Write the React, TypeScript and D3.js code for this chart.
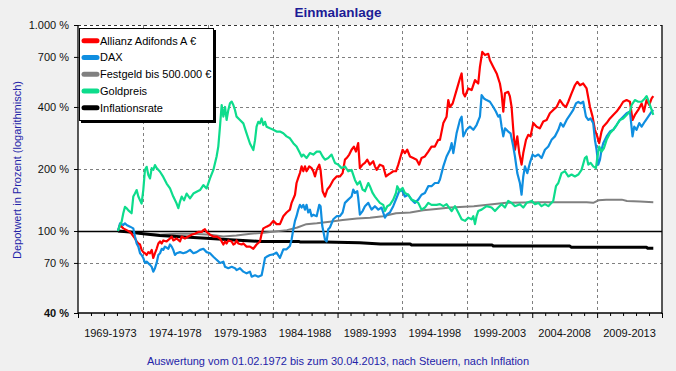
import React, { useEffect, useRef } from "react";
import * as d3 from "d3";

// Werte in Prozent (Startwert = 100 %)
const periods = [
  "1969-1973", "1974-1978", "1979-1983", "1984-1988", "1989-1993",
  "1994-1998", "1999-2003", "2004-2008", "2009-2013",
];
const yTicks = [40, 70, 100, 200, 400, 700, 1000];

const allianz: [number, number][] = [
  [1972.08, 100], [1972.24, 107], [1972.49, 103], [1972.75, 101], [1973.01, 99], [1973.13, 97],
  [1973.39, 92], [1973.52, 89], [1973.65, 87], [1973.78, 86], [1973.9, 81], [1974.03, 79],
  [1974.16, 78], [1974.29, 76.5], [1974.42, 79], [1974.55, 78], [1974.68, 81], [1974.8, 74],
  [1974.93, 78], [1975.06, 82], [1975.19, 87], [1975.32, 89], [1975.45, 87], [1975.57, 90],
  [1975.83, 89], [1976.09, 92], [1976.22, 94], [1976.34, 90], [1976.6, 92], [1976.86, 89],
  [1976.99, 94], [1977.24, 92], [1977.5, 94], [1977.76, 96], [1978.01, 97], [1978.27, 99],
  [1978.53, 99], [1978.66, 101], [1978.78, 102], [1978.91, 99], [1979.17, 96], [1979.43, 94],
  [1979.68, 94], [1979.94, 92], [1980.2, 86], [1980.33, 89], [1980.45, 87], [1980.58, 90],
  [1980.84, 89], [1980.97, 86], [1981.1, 87], [1981.22, 90], [1981.35, 87], [1981.61, 86],
  [1981.74, 87], [1981.99, 84], [1982.25, 84], [1982.51, 82], [1982.76, 86], [1983.02, 89],
  [1983.15, 97], [1983.28, 103], [1983.53, 105], [1983.79, 107], [1984.05, 112], [1984.3, 108],
  [1984.56, 108], [1984.82, 118], [1985.07, 123], [1985.33, 127], [1985.46, 137], [1985.72, 150],
  [1985.84, 171], [1985.97, 181], [1986.1, 191], [1986.23, 206], [1986.36, 195], [1986.49, 206],
  [1986.61, 195], [1986.82, 206], [1987.0, 202], [1987.13, 195], [1987.26, 184], [1987.39, 198],
  [1987.59, 210], [1987.69, 198], [1987.85, 156], [1988.03, 147], [1988.21, 159], [1988.41, 165],
  [1988.67, 177], [1988.93, 184], [1989.18, 184], [1989.39, 191], [1989.57, 222], [1989.7, 226],
  [1989.9, 235], [1990.08, 248], [1990.26, 257], [1990.42, 243], [1990.59, 267], [1990.72, 202],
  [1990.93, 210], [1991.11, 214], [1991.29, 222], [1991.49, 210], [1991.75, 218], [1991.88, 206],
  [1992.01, 198], [1992.26, 210], [1992.52, 206], [1992.73, 184], [1992.91, 188], [1993.09, 191],
  [1993.29, 195], [1993.5, 195], [1993.68, 210], [1993.86, 230], [1994.01, 248], [1994.19, 239],
  [1994.37, 248], [1994.58, 230], [1994.83, 226], [1995.09, 222], [1995.29, 210], [1995.47, 226],
  [1995.73, 230], [1995.99, 243], [1996.24, 257], [1996.5, 257], [1996.76, 277], [1996.89, 277],
  [1997.15, 334], [1997.4, 359], [1997.53, 432], [1997.66, 400], [1997.87, 416], [1998.17, 483],
  [1998.43, 550], [1998.56, 582], [1998.69, 466], [1998.82, 450], [1999.07, 492], [1999.33, 483],
  [1999.59, 540], [1999.84, 520], [1999.97, 626], [2000.15, 740], [2000.36, 715], [2000.61, 725],
  [2000.74, 675], [2001.0, 626], [2001.26, 582], [2001.51, 520], [2001.64, 466], [2001.77, 380],
  [2001.9, 466], [2002.15, 474], [2002.28, 450], [2002.41, 400], [2002.54, 310], [2002.67, 248],
  [2002.85, 288], [2003.0, 239], [2003.18, 210], [2003.31, 239], [2003.52, 277], [2003.7, 293],
  [2003.87, 288], [2004.08, 334], [2004.34, 321], [2004.59, 315], [2004.85, 340], [2005.11, 346],
  [2005.36, 373], [2005.62, 387], [2005.88, 400], [2006.13, 432], [2006.39, 409], [2006.6, 400],
  [2006.78, 424], [2007.03, 466], [2007.29, 510], [2007.47, 530], [2007.68, 510], [2007.93, 520],
  [2008.19, 492], [2008.45, 400], [2008.65, 359], [2008.83, 310], [2009.01, 288], [2009.16, 267],
  [2009.34, 304], [2009.47, 321], [2009.73, 334], [2009.99, 352], [2010.24, 366], [2010.5, 380],
  [2010.76, 400], [2011.01, 424], [2011.27, 432], [2011.53, 424], [2011.73, 346], [2011.91, 366],
  [2012.17, 387], [2012.43, 416], [2012.61, 380], [2012.81, 432], [2013.02, 409], [2013.2, 440],
  [2013.33, 452],
];

const dax: [number, number][] = [
  [1972.08, 100], [1972.24, 109], [1972.49, 107], [1972.62, 109], [1972.75, 107], [1973.01, 105],
  [1973.26, 103], [1973.39, 94], [1973.52, 87], [1973.65, 84], [1973.78, 78], [1973.9, 76.5],
  [1974.03, 74], [1974.16, 70], [1974.29, 71], [1974.55, 68.5], [1974.68, 67], [1974.8, 63.5],
  [1974.93, 66], [1975.06, 70], [1975.19, 76.5], [1975.32, 78], [1975.45, 82], [1975.57, 81],
  [1975.7, 84], [1975.96, 82], [1976.09, 86], [1976.22, 84], [1976.34, 81], [1976.47, 76.5],
  [1976.6, 78], [1976.86, 79], [1977.11, 78], [1977.37, 79], [1977.63, 81], [1977.89, 78],
  [1978.14, 79], [1978.4, 81], [1978.66, 82], [1978.91, 79], [1979.17, 78], [1979.43, 75],
  [1979.68, 72.5], [1979.94, 70], [1980.2, 71], [1980.33, 67], [1980.58, 66], [1980.84, 67],
  [1981.1, 66], [1981.22, 64.6], [1981.48, 66], [1981.74, 63.5], [1981.99, 62.3], [1982.25, 63.5],
  [1982.38, 60], [1982.64, 61], [1982.89, 60], [1983.15, 61], [1983.28, 67], [1983.41, 74],
  [1983.53, 75], [1983.79, 76.5], [1984.05, 77], [1984.3, 78.6], [1984.56, 74], [1984.82, 81.5],
  [1985.07, 81.5], [1985.33, 84.6], [1985.46, 91], [1985.59, 102], [1985.72, 112], [1985.84, 118],
  [1985.97, 127], [1986.1, 134], [1986.23, 130], [1986.36, 134], [1986.49, 127], [1986.61, 134],
  [1986.74, 123], [1986.87, 127], [1987.0, 118], [1987.13, 120], [1987.39, 118], [1987.59, 134],
  [1987.69, 132], [1987.82, 106], [1987.9, 100], [1988.03, 91], [1988.16, 89], [1988.28, 102],
  [1988.41, 104], [1988.67, 114], [1988.93, 118], [1989.18, 118], [1989.39, 123], [1989.57, 137],
  [1989.82, 142], [1990.08, 147], [1990.21, 159], [1990.34, 153], [1990.52, 156], [1990.59, 145],
  [1990.72, 120], [1990.93, 125], [1991.11, 132], [1991.37, 137], [1991.49, 132], [1991.62, 127],
  [1991.88, 132], [1992.14, 127], [1992.39, 130], [1992.65, 116], [1992.78, 120], [1993.03, 123],
  [1993.29, 132], [1993.55, 145], [1993.8, 159], [1994.01, 156], [1994.19, 147], [1994.45, 150],
  [1994.7, 142], [1994.96, 137], [1995.22, 142], [1995.47, 150], [1995.73, 153], [1995.99, 165],
  [1996.24, 165], [1996.5, 171], [1996.76, 171], [1996.89, 178], [1997.15, 206], [1997.4, 230],
  [1997.66, 248], [1997.79, 267], [1997.92, 239], [1998.17, 298], [1998.43, 346], [1998.56, 359],
  [1998.69, 288], [1998.94, 310], [1999.2, 321], [1999.46, 310], [1999.71, 327], [1999.97, 359],
  [2000.1, 457], [2000.28, 440], [2000.48, 432], [2000.74, 424], [2001.0, 400], [2001.2, 380],
  [2001.38, 359], [2001.51, 366], [2001.64, 321], [2001.77, 288], [2001.9, 315], [2002.15, 304],
  [2002.33, 298], [2002.54, 257], [2002.67, 230], [2002.85, 191], [2003.05, 171], [2003.18, 150],
  [2003.31, 184], [2003.44, 206], [2003.62, 191], [2003.82, 214], [2004.03, 235], [2004.21, 230],
  [2004.47, 235], [2004.72, 226], [2004.98, 248], [2005.24, 257], [2005.49, 277], [2005.75, 288],
  [2006.01, 310], [2006.19, 334], [2006.39, 321], [2006.65, 346], [2006.91, 366], [2007.16, 387],
  [2007.37, 416], [2007.55, 424], [2007.73, 416], [2007.93, 424], [2008.14, 359], [2008.32, 346],
  [2008.5, 352], [2008.7, 334], [2008.83, 277], [2008.96, 248], [2009.09, 210], [2009.22, 222],
  [2009.34, 248], [2009.47, 267], [2009.73, 288], [2009.99, 304], [2010.24, 310], [2010.5, 327],
  [2010.76, 346], [2011.01, 359], [2011.27, 373], [2011.53, 380], [2011.73, 288], [2011.86, 321],
  [2012.04, 310], [2012.25, 334], [2012.43, 321], [2012.68, 340], [2012.94, 359], [2013.2, 380],
  [2013.33, 387],
];

const festgeld: [number, number][] = [
  [1972.08, 100], [1972.9, 99], [1974.03, 97], [1975.3, 96], [1976.6, 97], [1977.9, 97],
  [1979.2, 96], [1980.2, 94], [1981.2, 95], [1982.3, 97], [1983.3, 98], [1983.8, 99],
  [1985.1, 101], [1985.9, 104], [1986.6, 108], [1987.4, 109], [1988.4, 111], [1989.4, 113],
  [1990.5, 115], [1991.5, 116], [1992.5, 118], [1993.5, 122], [1994.6, 123], [1995.6, 126],
  [1996.6, 128], [1997.7, 130], [1999.5, 132], [2002.0, 137], [2004.6, 138], [2008.2, 138],
  [2008.7, 137], [2009.1, 141], [2009.7, 142], [2010.9, 142], [2011.3, 140], [2012.3, 139],
  [2013.33, 138],
];

const gold: [number, number][] = [
  [1972.08, 100], [1972.24, 107], [1972.36, 111], [1972.49, 122], [1972.62, 131], [1972.75, 129],
  [1972.88, 126], [1973.13, 122], [1973.26, 147], [1973.39, 152], [1973.52, 158], [1973.65, 147],
  [1973.78, 141], [1973.9, 136], [1974.03, 158], [1974.16, 198], [1974.29, 205], [1974.42, 187],
  [1974.55, 180], [1974.68, 202], [1974.8, 198], [1974.93, 209], [1975.06, 202], [1975.32, 194],
  [1975.57, 183], [1975.83, 170], [1976.09, 161], [1976.34, 147], [1976.6, 136], [1976.73, 129],
  [1976.86, 139], [1976.99, 147], [1977.17, 141], [1977.37, 152], [1977.63, 144], [1977.89, 152],
  [1978.14, 155], [1978.4, 158], [1978.66, 167], [1978.91, 161], [1979.17, 180], [1979.43, 198],
  [1979.68, 230], [1979.81, 257], [1979.94, 321], [1980.07, 409], [1980.2, 359], [1980.33, 400],
  [1980.45, 346], [1980.58, 386], [1980.71, 417], [1980.84, 425], [1980.97, 409], [1981.1, 386],
  [1981.22, 359], [1981.48, 346], [1981.74, 333], [1981.99, 298], [1982.25, 266], [1982.51, 247],
  [1982.64, 276], [1982.76, 321], [1982.89, 339], [1983.02, 333], [1983.15, 352], [1983.28, 327],
  [1983.41, 339], [1983.53, 321], [1983.79, 315], [1984.05, 310], [1984.3, 304], [1984.56, 304],
  [1984.82, 298], [1985.07, 288], [1985.33, 282], [1985.59, 267], [1985.84, 257], [1986.1, 239],
  [1986.23, 230], [1986.36, 235], [1986.61, 226], [1986.87, 239], [1987.13, 235], [1987.39, 243],
  [1987.64, 243], [1987.85, 230], [1988.03, 222], [1988.28, 226], [1988.54, 235], [1988.8, 214],
  [1989.05, 210], [1989.31, 202], [1989.57, 206], [1989.82, 195], [1990.08, 198], [1990.34, 177],
  [1990.52, 168], [1990.72, 174], [1990.93, 159], [1991.11, 156], [1991.37, 171], [1991.49, 165],
  [1991.7, 153], [1991.88, 147], [1992.06, 142], [1992.26, 137], [1992.52, 134], [1992.65, 125],
  [1992.83, 132], [1993.03, 134], [1993.29, 142], [1993.5, 153], [1993.6, 165], [1993.8, 156],
  [1994.01, 162], [1994.19, 153], [1994.45, 150], [1994.7, 142], [1994.96, 140], [1995.22, 137],
  [1995.47, 127], [1995.73, 130], [1995.99, 137], [1996.24, 134], [1996.63, 134], [1996.89, 135],
  [1997.15, 132], [1997.4, 135], [1997.79, 125], [1998.05, 132], [1998.3, 123], [1998.56, 114],
  [1998.82, 112], [1999.07, 116], [1999.33, 114], [1999.46, 118], [1999.59, 108], [1999.71, 118],
  [1999.84, 125], [2000.1, 127], [2000.48, 132], [2000.87, 130], [2001.13, 125], [2001.38, 130],
  [2001.64, 135], [2001.9, 130], [2002.15, 140], [2002.41, 137], [2002.67, 132], [2003.05, 135],
  [2003.31, 130], [2003.57, 137], [2003.95, 140], [2004.21, 135], [2004.47, 137], [2004.72, 132],
  [2004.98, 135], [2005.24, 132], [2005.49, 137], [2005.62, 140], [2005.83, 165], [2006.01, 171],
  [2006.26, 191], [2006.52, 195], [2006.78, 184], [2007.03, 188], [2007.29, 184], [2007.55, 188],
  [2007.8, 198], [2008.06, 226], [2008.19, 230], [2008.32, 210], [2008.5, 214], [2008.7, 206],
  [2008.91, 202], [2009.01, 226], [2009.16, 257], [2009.34, 243], [2009.52, 252], [2009.73, 277],
  [2009.99, 298], [2010.24, 310], [2010.5, 327], [2010.76, 346], [2011.01, 352], [2011.27, 366],
  [2011.53, 380], [2011.66, 409], [2011.91, 432], [2012.17, 424], [2012.43, 424], [2012.68, 440],
  [2012.81, 452], [2012.94, 432], [2013.07, 409], [2013.2, 387], [2013.33, 366],
];

const inflation: [number, number][] = [
  [1972.08, 100], [1973.0, 99], [1973.4, 98], [1974.03, 97], [1975.3, 95], [1976.6, 94],
  [1977.9, 93], [1979.2, 92], [1980.4, 91], [1981.7, 90], [1983.0, 89], [1986.0, 89],
  [1986.1, 88.5], [1988.0, 88.5], [1990.7, 87.8], [1992.3, 86.5], [1994.6, 86.5], [1994.7, 85.6],
  [2000.9, 85.6], [2001.0, 84.6], [2006.9, 84.6], [2007.0, 83.4], [2012.8, 83.4], [2012.9, 82.5],
  [2013.33, 82.5],
];

const series = [
  { name: "Allianz Adifonds A €", color: "#ff0000", data: allianz, width: 2.2 },
  { name: "DAX", color: "#0f8ee0", data: dax, width: 2.2 },
  { name: "Festgeld bis 500.000 €", color: "#808080", data: festgeld, width: 2 },
  { name: "Goldpreis", color: "#0ddc8c", data: gold, width: 2.2 },
  { name: "Inflationsrate", color: "#000000", data: inflation, width: 3 },
];
const drawOrder = [2, 4, 0, 1, 3];

const W = 676;
const H = 371;
const font = "'Liberation Sans', Arial, sans-serif";

const de = d3.formatLocale({ decimal: ",", thousands: ".", grouping: [3], currency: ["", " €"] });
const fmt = de.format(",");

const App = () => {
  const chart = useRef<SVGSVGElement>(null);

  useEffect(() => {
    const margin = { top: 25, right: 14, bottom: 58, left: 78 };
    const x = d3.scaleLinear().domain([1969, 2014]).range([margin.left, W - margin.right]);
    const y = d3.scaleLog().domain([40, 1000]).range([H - margin.bottom, margin.top]);
    const [x0, x1] = x.range();
    const [y0, y1] = y.range();

    const svg = d3.select(chart.current);
    svg.selectAll("*").remove();
    svg.attr("width", W).attr("height", H).style("font-family", font);

    svg.append("rect").attr("width", W).attr("height", H).attr("fill", "#f0f0f0");
    svg.append("rect").attr("x", x0).attr("y", y1).attr("width", x1 - x0).attr("height", y0 - y1).attr("fill", "#fff");

    // Gitter
    const grid = svg.append("g").attr("stroke-dasharray", "3,3").attr("stroke-width", 1);
    grid.selectAll(".hg")
      .data(yTicks.filter((v) => v !== 40 && v !== 100))
      .join("line")
      .attr("x1", x0).attr("x2", x1)
      .attr("y1", (d) => Math.round(y(d)) + 0.5).attr("y2", (d) => Math.round(y(d)) + 0.5)
      .attr("stroke", (d) => (d === 1000 ? "#333" : "#808080"));
    grid.selectAll(".vg")
      .data(d3.range(1974, 2014, 5))
      .join("line")
      .attr("x1", (d) => Math.round(x(d)) + 0.5).attr("x2", (d) => Math.round(x(d)) + 0.5)
      .attr("y1", y1).attr("y2", y0)
      .attr("stroke", "#808080");

    svg.append("line")
      .attr("x1", x0).attr("x2", x1)
      .attr("y1", Math.round(y(100)) + 0.5).attr("y2", Math.round(y(100)) + 0.5)
      .attr("stroke", "#000").attr("stroke-width", 1.3);

    // Linien
    const line = d3.line<[number, number]>()
      .x((d) => x(d[0]))
      .y((d) => y(d[1]));
    svg.append("g")
      .selectAll("path")
      .data(drawOrder.map((i) => series[i]))
      .join("path")
      .attr("d", (d) => line(d.data))
      .attr("fill", "none")
      .attr("stroke", (d) => d.color)
      .attr("stroke-width", (d) => d.width)
      .attr("stroke-linejoin", "round");

    // Achsen
    const yAxis = svg.append("g")
      .attr("transform", `translate(${x0},0)`)
      .call(
        d3.axisLeft(y)
          .tickValues(yTicks)
          .tickFormat((v) => fmt(v as number) + " %")
          .tickSize(4)
          .tickPadding(5)
      );
    yAxis.select(".domain").remove();
    yAxis.selectAll("text")
      .attr("font-family", font)
      .attr("font-size", 11)
      .attr("fill", "#111")
      .attr("font-weight", (d) => (d === 40 ? "bold" : "normal"));

    const xAxis = svg.append("g")
      .attr("transform", `translate(0,${y0})`)
      .call(d3.axisBottom(x).tickValues(d3.range(1969, 2015)).tickSize(3).tickFormat(() => ""));
    xAxis.select(".domain").remove();
    xAxis.selectAll(".tick line").attr("y2", (d) => ((d as number) % 5 === 4 ? 5 : 3));

    const frame = svg.append("g").attr("stroke", "#000").attr("stroke-width", 1.3);
    frame.append("line").attr("x1", x0).attr("x2", x0).attr("y1", y1).attr("y2", y0 + 1);
    frame.append("line").attr("x1", x1).attr("x2", x1).attr("y1", y1).attr("y2", y0 + 1);
    frame.append("line").attr("x1", x0).attr("x2", x1).attr("y1", y0).attr("y2", y0);

    svg.append("g")
      .selectAll("text")
      .data(periods)
      .join("text")
      .attr("x", (d, i) => x(1969 + 5 * i + 2.5))
      .attr("y", y0 + 24)
      .attr("text-anchor", "middle")
      .attr("font-size", 11)
      .attr("fill", "#111")
      .text((d) => d);

    // Legende
    const lg = svg.append("g").attr("transform", "translate(79,28)");
    lg.append("rect").attr("x", 2).attr("y", 2).attr("width", 135).attr("height", 93).attr("fill", "#000");
    lg.append("rect").attr("x", 0.5).attr("y", 0.5).attr("width", 134).attr("height", 92)
      .attr("fill", "#fff").attr("stroke", "#000");
    const item = lg.selectAll(".item")
      .data(series)
      .join("g")
      .attr("transform", (d, i) => `translate(0,${12.7 + i * 16.75})`);
    item.append("line")
      .attr("x1", 5).attr("x2", 18)
      .attr("stroke", (d) => d.color)
      .attr("stroke-width", 5)
      .attr("stroke-linecap", "round");
    item.append("text")
      .attr("x", 21)
      .attr("dy", "0.36em")
      .attr("font-size", 11)
      .attr("fill", "#000")
      .text((d) => d.name);

    // Titel
    svg.append("text")
      .attr("x", 338).attr("y", 17)
      .attr("text-anchor", "middle")
      .attr("font-size", 13.5).attr("font-weight", "bold")
      .attr("fill", "#1c1c96")
      .text("Einmalanlage");
    svg.append("text")
      .attr("transform", `translate(21,${(y0 + y1) / 2 + 1}) rotate(-90)`)
      .attr("text-anchor", "middle")
      .attr("font-size", 11)
      .attr("fill", "#2323a8")
      .text("Depotwert in Prozent (logarithmisch)");
    svg.append("text")
      .attr("x", 338).attr("y", 365)
      .attr("text-anchor", "middle")
      .attr("font-size", 11)
      .attr("fill", "#2323a8")
      .text("Auswertung vom 01.02.1972 bis zum 30.04.2013, nach Steuern, nach Inflation");
  });

  return (
    <div style={{ position: "absolute", left: 0, top: 0 }}>
      <svg ref={chart}></svg>
    </div>
  );
};

export default App;
